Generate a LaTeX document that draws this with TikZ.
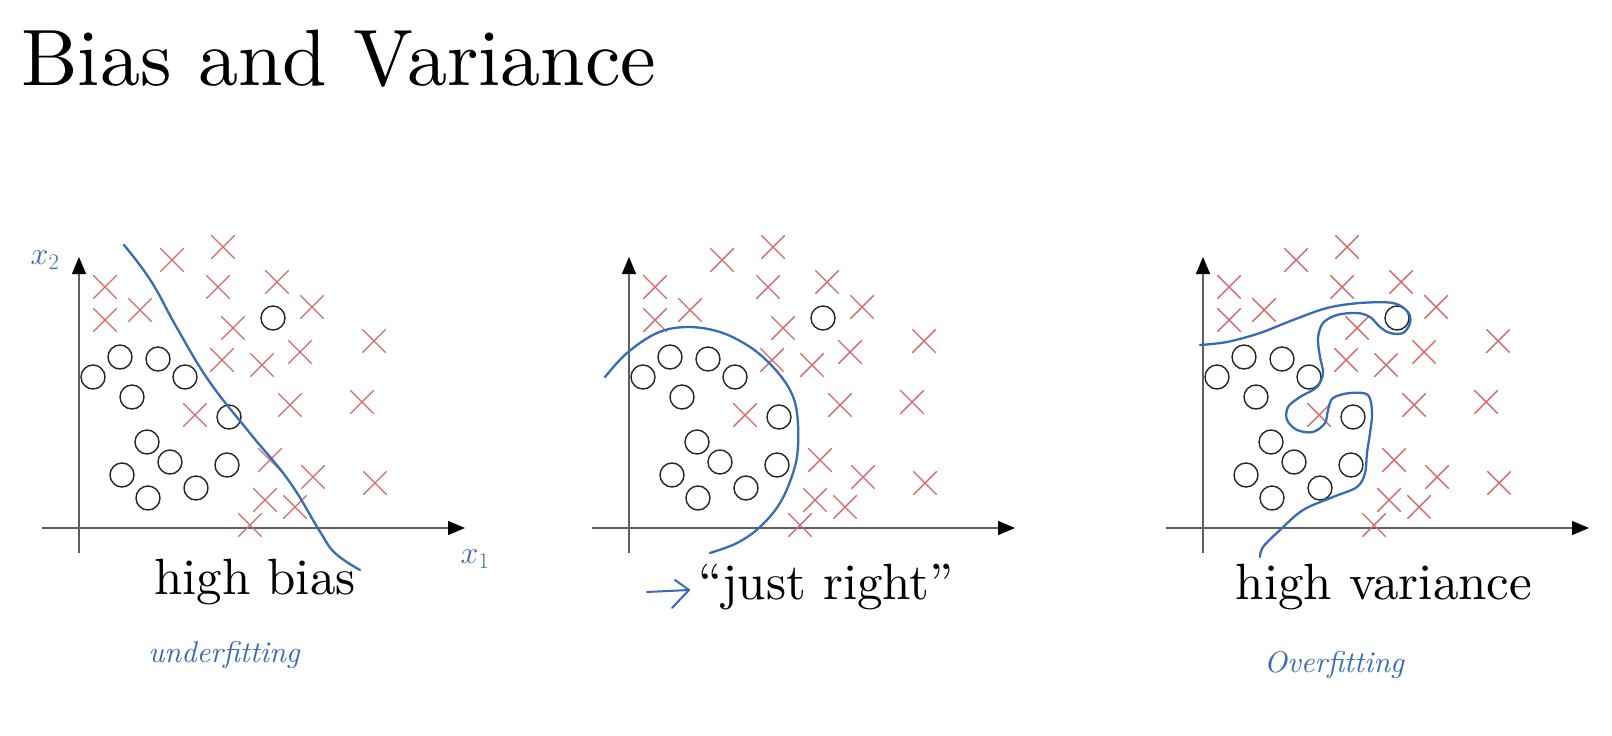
\RequirePackage{fix-cm}
\documentclass[tikz,border=0pt]{standalone}
\usepackage{fontspec}
\setmainfont{lmroman10-regular.otf}[ItalicFont=lmroman10-italic.otf,BoldFont=lmroman10-bold.otf]
\usetikzlibrary{shapes.misc,arrows.meta}
\definecolor{xred}{RGB}{212,104,104}
\definecolor{penblue}{RGB}{55,108,178}
\definecolor{axisgray}{RGB}{95,95,95}
\begin{document}
\begin{tikzpicture}[x=1pt,y=-1pt,
  xm/.style={cross out,draw=xred,line width=1.4pt,minimum size=22pt,inner sep=0pt},
  om/.style={circle,draw=black!85,line width=1.4pt,minimum size=24pt,inner sep=0pt},
  axis/.style={draw=axisgray,line width=1.2pt,-{Triangle[length=17pt,width=14pt,color=black]}},
  pen/.style={draw=penblue,line width=2.3pt,line cap=round,line join=round},
  lbl/.style={font=\fontsize{51}{60}\selectfont,anchor=base,inner sep=0pt},
  hand/.style={text=penblue,font=\fontsize{30}{34}\selectfont\itshape,inner sep=0pt}]
\fill[white] (0,0) rectangle (1612,736);
\useasboundingbox (0,0) rectangle (1612,736);

\node[anchor=base west,inner sep=0pt,font=\fontsize{80}{96}\selectfont] (title) at (21,85) {Bias and Variance};

\foreach \p/\ox in {1/79,2/629,3/1203}{
 \begin{scope}[shift={(\ox,528)}]
  \coordinate (yb\p) at (0,25);
  \coordinate (yt\p) at (0,-271);
  \coordinate (xl\p) at (-37,0);
  \coordinate (xr\p) at (386,0);
  \draw[axis] (yb\p) -- (yt\p);
  \draw[axis] (xl\p) -- (xr\p);
  \foreach \x/\y [count=\i] in {26/-241,26/-208,61/-218,93/-268,144/-281,139/-241,
      198/-246,233/-221,154/-200,143/-168,183/-163,221/-176,295/-187,116/-113,
      211/-123,283/-126,191/-68,234/-51,296/-45,186/-28,216/-21,171/-3}
    {\node[xm] (x\p-\i) at (\x,\y) {};}
  \foreach \x/\y [count=\i] in {194/-210,41/-171,79/-169,14/-151,106/-151,53/-131,
      150/-111,68/-86,91/-66,148/-63,43/-53,69/-30,117/-40}
    {\node[om] (o\p-\i) at (\x,\y) {};}
 \end{scope}
}

% panel 1 boundary
\begin{scope}[shift={(79,528)}]
 \draw[pen] plot[smooth,tension=0.7] coordinates {(45,-283) (72,-247) (98,-200) (130,-147) (170,-96) (210,-47) (240,2) (256,25) (281,42)};
\end{scope}

% panel 2 boundary
\begin{scope}[shift={(629,528)}]
 \draw[pen] plot[smooth,tension=0.6] coordinates {(-24,-151) (-2,-175) (28,-195) (58,-201) (91,-196) (121,-181) (144,-161) (161,-138) (168,-115) (169,-81) (164,-55) (151,-25) (131,-1) (108,15) (81,25)};
 \coordinate (as) at (18,64);
 \coordinate (at) at (60,62);
 \coordinate (au) at (46,52);
 \coordinate (ad) at (43,80);
 \draw[pen,line width=2pt] (as) -- (at);
 \draw[pen,line width=2pt] (au) -- (at) -- (ad);
\end{scope}

% panel 3 boundary
\begin{scope}[shift={(1203,528)}]
 \draw[pen] plot[smooth,tension=0.55] coordinates {(-3,-183) (24,-186) (57,-195) (90,-208) (124,-220) (157,-225) (190,-225) (205,-216) (207,-205) (200,-195) (187,-195) (177,-201) (167,-211) (154,-215) (134,-213) (120,-205) (115,-190) (117,-171) (120,-155) (114,-141) (97,-131) (85,-121) (84,-108) (94,-98) (110,-96) (122,-105) (125,-118) (130,-130) (147,-135) (165,-133) (169,-115) (167,-95) (164,-75) (162,-55) (154,-41) (130,-31) (100,-18) (77,2) (60,19) (57,29)};
\end{scope}

\node[lbl] (l1) at (255,594) {high bias};
\node[lbl] (l2) at (826,599) {“just right”};
\node[lbl] (l3) at (1384,599) {high variance};

\node[hand] (u1) at (224,655) {underfitting};
\node[hand] (o3) at (1334,665) {Overfitting};
\node[hand,font=\fontsize{32}{36}\selectfont] (x2l) at (45,260) {$x_2$};
\node[hand,font=\fontsize{32}{36}\selectfont] (x1l) at (475,559) {$x_1$};
\end{tikzpicture}
\end{document}
